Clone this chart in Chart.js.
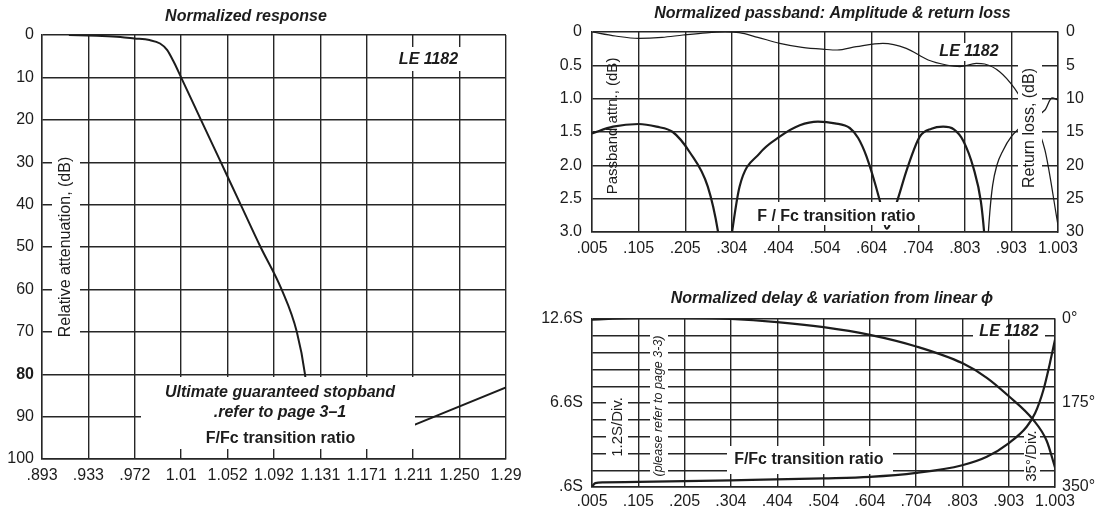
<!DOCTYPE html>
<html>
<head>
<meta charset="utf-8">
<script src="https://cdn.jsdelivr.net/npm/chart.js@4.4.1/dist/chart.umd.min.js"></script>
<style>
  html, body { margin: 0; padding: 0; background: #fff; }
  #wrap { position: relative; width: 1101px; height: 510px; }
  #wrap canvas { position: absolute; left: 0; top: 0; }
</style>
</head>
<body>
<div id="wrap">
  <canvas id="responseChart" width="1101" height="510"></canvas>
  <canvas id="passbandChart" width="1101" height="510"></canvas>
  <canvas id="delayChart" width="1101" height="510"></canvas>
</div>
<script>
// Normalized response (stopband)
const responseTicks = ['.893', '.933', '.972', '1.01', '1.052', '1.092', '1.131', '1.171', '1.211', '1.250', '1.29'];
const attenTicks = ['0', '10', '20', '30', '40', '50', '60', '70', '80', '90', '100'];
const responseFreq = [0.916, 0.94, 0.96, 0.972, 0.985, 0.994, 1.0, 1.006, 1.012, 1.029, 1.046, 1.063, 1.08, 1.098, 1.111, 1.118, 1.121];
const responseDb = [0, 0.2, 0.45, 0.8, 1.2, 2.0, 3.5, 6.5, 10, 20, 30, 40, 50, 60, 70, 80, 88];
const stopbandFreq = [1.211, 1.29];
const stopbandDb = [92, 83.1];
const boldDbTick = 80;

// Passband amplitude & return loss
const passbandTicks = ['.005', '.105', '.205', '.304', '.404', '.504', '.604', '.704', '.803', '.903', '1.003'];
const passAttnTicks = ['0', '0.5', '1.0', '1.5', '2.0', '2.5', '3.0'];
const returnLossTicks = ['0', '5', '10', '15', '20', '25', '30'];
const passFreq = [0.005, 0.055, 0.105, 0.155, 0.2, 0.25, 0.29, 0.32, 0.36, 0.407, 0.455, 0.503, 0.53, 0.571, 0.628, 0.678, 0.725, 0.764, 0.793, 0.828, 0.846, 0.878, 0.91, 0.945, 0.975, 1.003];
const passDb = [0, 0.06, 0.095, 0.08, 0.045, 0.012, 0, 0.01, 0.08, 0.17, 0.23, 0.26, 0.27, 0.22, 0.17, 0.245, 0.42, 0.495, 0.52, 0.47, 0.48, 0.595, 0.845, 1.25, 1.77, 2.9];
const rlFreq = [0.005, 0.05, 0.105, 0.143, 0.178, 0.214, 0.253, 0.275, 0.29, 0.305, 0.321, 0.364, 0.407, 0.45, 0.489, 0.525, 0.557, 0.575, 0.593, 0.621, 0.636, 0.657, 0.68, 0.707, 0.732, 0.757, 0.78, 0.8, 0.822, 0.838, 0.846, 0.85];
const rlDb = [15.2, 14.2, 13.8, 14.2, 15.0, 18, 23.2, 30, 38, 30, 23.2, 18.2, 15.7, 14, 13.45, 13.7, 14.4, 15.9, 18.7, 25.2, 29.5, 25.7, 20.5, 15.7, 14.5, 14.2, 14.6, 16.3, 20.4, 25.5, 31, 35];
const rlTailFreq = [0.85, 0.853, 0.857, 0.863, 0.872, 0.885, 0.903, 0.94, 0.975, 0.99, 1.003];
const rlTailDb = [35, 31, 27, 23, 20, 17.8, 15.7, 13.3, 11.7, 9.9, 10.2];

// Delay & phase variation
const delayFreqTicks = passbandTicks;
const delayTicks = ['.6S', '', '', '', '', '6.6S', '', '', '', '', '12.6S'];
const phaseTicks = ['0°', '175°', '350°'];
const delayFreq = [0.005, 0.05, 0.105, 0.205, 0.304, 0.404, 0.504, 0.604, 0.704, 0.803, 0.856, 0.903, 0.956, 0.985, 1.003];
const delayS = [12.55, 12.63, 12.66, 12.66, 12.6, 12.38, 12.02, 11.47, 10.64, 9.45, 8.4, 7.1, 5.4, 3.9, 2.0];
const phaseFreq = [0.005, 0.012, 0.03, 0.105, 0.304, 0.504, 0.604, 0.704, 0.803, 0.856, 0.903, 0.942, 0.96, 0.978, 0.992, 1.003];
const phaseDeg = [349, 342, 340.5, 339.5, 336, 332, 329, 320.7, 304.6, 287, 259, 224.5, 196.5, 147.8, 92, 43];

const INK = '#1c1c1c';
const GRID = '#262626';
const FAMILY = '"Liberation Sans", Arial, Helvetica, sans-serif';
Chart.defaults.font.family = FAMILY;
Chart.defaults.color = INK;

function toPoints(xs, ys) {
    return xs.map((x, i) => ({ x: x, y: ys[i] }));
}

// ticks spread evenly between min and max, labelled from an array
function evenTicks(count) {
    return scale => {
        const step = (scale.max - scale.min) / (count - 1);
        scale.ticks = Array.from({ length: count }, (_, i) => ({ value: scale.min + step * i }));
    };
}

function curve(xs, ys, width, axis) {
    return {
        data: toPoints(xs, ys),
        yAxisID: axis || 'y',
        borderColor: INK,
        borderWidth: width,
        pointRadius: 0,
        cubicInterpolationMode: 'monotone',
        fill: false
    };
}

function xAxis(min, max, labels, height, pad) {
    return {
        type: 'linear', min: min, max: max,
        afterBuildTicks: evenTicks(labels.length),
        afterFit: s => { s.height = height; },
        grid: { color: GRID, lineWidth: 1.4, drawTicks: false },
        border: { color: GRID, width: 1.4 },
        ticks: { padding: pad, color: INK, font: { size: 16 }, autoSkip: false, maxRotation: 0, minRotation: 0,
                 callback: (v, i) => labels[i] }
    };
}

function yAxis(min, max, labels, opts) {
    return {
        type: 'linear', min: min, max: max,
        position: opts.position || 'left',
        reverse: !!opts.reverse,
        afterBuildTicks: evenTicks(labels.length),
        afterFit: s => { s.width = opts.width; },
        grid: opts.grid === false
            ? { drawOnChartArea: false, drawTicks: false }
            : { color: GRID, lineWidth: 1.4, drawTicks: false },
        border: { color: GRID, width: 1.4 },
        ticks: { padding: opts.pad, color: INK, autoSkip: false,
                 font: opts.font || { size: 16 },
                 callback: (v, i) => labels[i] }
    };
}

// titles, captions and the white label boxes
function makeNotes(items, boxesFirst) {
    const drawBoxes = chart => {
        const ctx = chart.ctx;
        ctx.save();
        ctx.fillStyle = '#fff';
        items.forEach(n => { if (n.box) ctx.fillRect(n.box[0], n.box[1], n.box[2], n.box[3]); });
        ctx.restore();
    };
    return {
        id: 'notes',
        beforeDatasetsDraw(chart) { if (boxesFirst) drawBoxes(chart); },
        afterDatasetsDraw(chart) {
            if (!boxesFirst) drawBoxes(chart);
            const ctx = chart.ctx;
            items.forEach(n => {
                if (!n.text) return;
                ctx.save();
                ctx.font = n.font;
                ctx.fillStyle = INK;
                ctx.textAlign = 'center';
                ctx.textBaseline = 'middle';
                ctx.translate(n.x, n.y);
                if (n.rotate) ctx.rotate(-Math.PI / 2);
                ctx.fillText(n.text, 0, 0);
                ctx.restore();
            });
        }
    };
}

const BI16 = 'italic bold 16px ' + FAMILY;
const B16 = 'bold 16px ' + FAMILY;
const R16 = '16px ' + FAMILY;
const R15 = '15px ' + FAMILY;

const baseOptions = {
    responsive: false,
    animation: false,
    events: [],
    plugins: { legend: { display: false }, tooltip: { enabled: false } }
};

// left panel
new Chart(document.getElementById('responseChart'), {
    type: 'line',
    data: { datasets: [curve(responseFreq, responseDb, 2), curve(stopbandFreq, stopbandDb, 2)] },
    options: {
        ...baseOptions,
        layout: { padding: { left: 0, top: 35, right: 595, bottom: 0 } },
        scales: {
            x: xAxis(0.893, 1.29, responseTicks, 51, 7),
            y: yAxis(0, 100, attenTicks, {
                reverse: true, width: 42, pad: 8,
                font: c => ({ size: 16, weight: c.tick && c.tick.value === boldDbTick ? 'bold' : 'normal' })
            })
        }
    },
    plugins: [makeNotes([
        { text: 'Normalized response', x: 246, y: 17, font: BI16 },
        { text: 'LE 1182', x: 428.5, y: 60, font: BI16, box: [396, 47, 65, 24] },
        { text: 'Relative attenuation, (dB)', x: 66, y: 247, rotate: true, font: R16, box: [52, 153, 28, 188] },
        { box: [141, 377, 274, 72] },
        { text: 'Ultimate guaranteed stopband', x: 280, y: 393, font: BI16 },
        { text: '.refer to page 3–1', x: 280, y: 413, font: BI16 },
        { text: 'F/Fc transition ratio', x: 280.5, y: 439, font: B16 }
    ])]
});

// top right panel
new Chart(document.getElementById('passbandChart'), {
    type: 'line',
    data: { datasets: [
        curve(passFreq, passDb, 1.2, 'y'),
        curve(rlFreq, rlDb, 2.2, 'y1'),
        curve(rlTailFreq, rlTailDb, 1.3, 'y1')
    ] },
    options: {
        ...baseOptions,
        layout: { padding: { left: 542, top: 32, right: 3, bottom: 248 } },
        scales: {
            x: xAxis(0.005, 1.003, passbandTicks, 30, 7),
            y: yAxis(0, 3, passAttnTicks, { reverse: true, width: 50, pad: 10 }),
            y1: yAxis(0, 30, returnLossTicks, { reverse: true, width: 40, pad: 8, position: 'right', grid: false })
        }
    },
    plugins: [makeNotes([
        { text: 'Normalized passband: Amplitude & return loss', x: 832.5, y: 13.5, font: BI16 },
        { text: 'LE 1182', x: 969, y: 52, font: BI16, box: [936, 43, 66, 18] },
        { text: 'F / Fc transition ratio', x: 836.3, y: 216.7, font: B16, box: [750, 202, 172, 23] },
        { text: 'Passband attn., (dB)', x: 613.3, y: 126, rotate: true, font: R15 },
        { text: 'Return loss, (dB)', x: 1029.3, y: 128, rotate: true, font: R16, box: [1018, 62, 24, 132] }
    ])]
});

// bottom right panel
new Chart(document.getElementById('delayChart'), {
    type: 'line',
    data: { datasets: [
        curve(delayFreq, delayS, 2.2, 'y'),
        curve(phaseFreq, phaseDeg, 2.2, 'y1')
    ] },
    options: {
        ...baseOptions,
        layout: { padding: { left: 542, top: 319, right: 6, bottom: 0 } },
        scales: {
            x: xAxis(0.005, 1.003, delayFreqTicks, 23, 5),
            y: yAxis(0.6, 12.6, delayTicks, { width: 50, pad: 9 }),
            y1: yAxis(0, 350, phaseTicks, { reverse: true, width: 40, pad: 7, position: 'right', grid: false })
        }
    },
    plugins: [makeNotes([
        { text: 'Normalized delay & variation from linear ϕ', x: 832, y: 298.5, font: BI16 },
        { text: 'LE 1182', x: 1009, y: 331.7, font: BI16, box: [973, 333.5, 72, 6] },
        { text: '1.2S/Div.', x: 618.3, y: 427, rotate: true, font: R15, box: [606, 391, 22, 70] },
        { text: '(please refer to page 3-3)', x: 658.3, y: 406, rotate: true, font: 'italic 12.5px ' + FAMILY, box: [650, 333, 18, 146] },
        { text: 'F/Fc transition ratio', x: 808.8, y: 460, font: B16, box: [727, 446, 166, 28] },
        { text: '35°/Div.', x: 1031.7, y: 456, rotate: true, font: R15, box: [1024, 428, 16, 57] }
    ], true)]
});
</script>
</body>
</html>
